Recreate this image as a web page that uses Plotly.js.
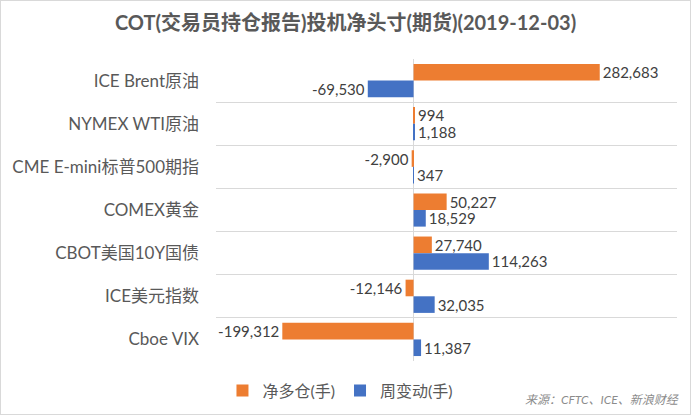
<!DOCTYPE html>
<html>
<head>
<meta charset="utf-8">
<script src="https://cdn.plot.ly/plotly-3.0.1.min.js"></script>
<style>
  body { margin: 0; background: #fff; }
  #chart { width: 689px; height: 413px; border: 1px solid #d9d9d9; }
</style>
</head>
<body>
<div id="chart"></div>
<script>
// categories (top to bottom)
let products = ["ICE Brent原油", "NYMEX WTI原油", "CME E-mini标普500期指", "COMEX黄金",
                "CBOT美国10Y国债", "ICE美元指数", "Cboe VIX"];

// net long positions (contracts)
let netLong = [282683, 994, -2900, 50227, 27740, -12146, -199312];

// weekly change (contracts)
let weeklyChange = [-69530, 1188, 347, 18529, 114263, 32035, 11387];

let fontFam = "Lato, 'Noto Sans CJK SC', sans-serif";

let trace1 = {
    y: products,
    x: netLong,
    type: "bar",
    orientation: "h",
    name: "净多仓(手)",
    marker: {color: "#ed7d31"},
    texttemplate: "%{x:,}",
    textposition: "outside",
    constraintext: "none",
    cliponaxis: false,
    textfont: {size: 15, color: "#404040"}
};

let trace2 = {
    y: products,
    x: weeklyChange,
    type: "bar",
    orientation: "h",
    name: "周变动(手)",
    marker: {color: "#4472c4"},
    texttemplate: "%{x:,}",
    textposition: "outside",
    constraintext: "none",
    cliponaxis: false,
    textfont: {size: 15, color: "#404040"}
};

let data = [trace1, trace2];

let layout = {
    width: 689,
    height: 413,
    margin: {l: 215, r: 13, t: 58, b: 53, autoexpand: false},
    paper_bgcolor: "#ffffff",
    plot_bgcolor: "#ffffff",
    font: {family: fontFam, color: "#595959"},
    separators: ".,",
    barmode: "group",
    bargap: 0.23,
    bargroupgap: 0,
    title: {
        text: "<b>COT(交易员持仓报告)投机净头寸(期货)(2019-12-03)</b>",
        font: {size: 20, color: "#595959"},
        x: 0.5, xanchor: "center",
        y: 0.947, yanchor: "middle"
    },
    xaxis: {
        range: [-300000, 400000],
        showgrid: false,
        showticklabels: false,
        zeroline: true,
        zerolinecolor: "#d9d9d9",
        zerolinewidth: 1,
        fixedrange: true
    },
    yaxis: {
        autorange: "reversed",
        type: "category",
        tickson: "boundaries",
        showgrid: true,
        gridcolor: "#d9d9d9",
        gridwidth: 1,
        ticks: "",
        ticklabelstandoff: 16,
        tickfont: {size: 17, color: "#595959"},
        showline: false
    },
    showlegend: true,
    legend: {
        orientation: "h",
        x: 0.27, xanchor: "center",
        y: -0.098, yanchor: "middle",
        font: {size: 16, color: "#595959"},
        itemwidth: 30,
        traceorder: "normal"
    },
    annotations: [{
        text: "<i>来源：CFTC、ICE、新浪财经</i>",
        xref: "paper", yref: "paper",
        x: 1.01, xanchor: "right",
        y: -0.128, yanchor: "middle",
        showarrow: false,
        font: {size: 12, color: "#8c8c8c"}
    }]
};

Plotly.newPlot("chart", data, layout, {displayModeBar: false});
</script>
</body>
</html>
